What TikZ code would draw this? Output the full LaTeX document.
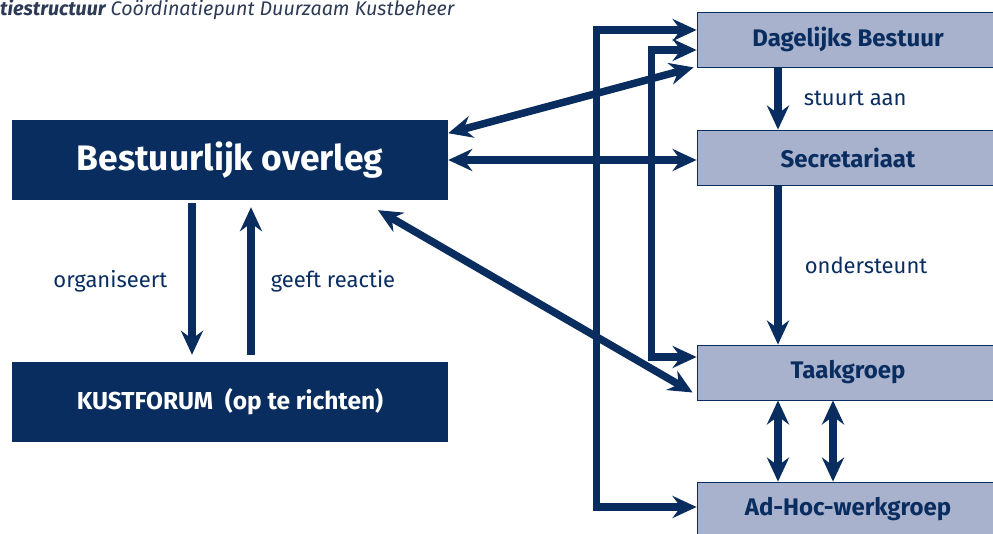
\documentclass[tikz,border=0pt]{standalone}
\usepackage{fontspec}
\setmainfont{Fira Sans}
\usepackage{xcolor}
\usepackage{tikz}
\usetikzlibrary{arrows.meta}
\definecolor{navy}{RGB}{10,45,96}
\definecolor{paleblue}{RGB}{168,178,205}
\definecolor{titlegray}{RGB}{45,58,85}
\tikzset{
    boxnode/.style = {align=center, inner sep=0pt, text centered, rectangle},
    dark_node/.style = {boxnode, fill=navy, text=white, minimum width=436pt, minimum height=80pt},
    light_node/.style = {boxnode, fill=paleblue, draw=navy, line width=0.8pt, text=navy, minimum width=302pt, minimum height=55pt, font=\bfseries\fontsize{24}{26}\selectfont},
    label_text/.style = {inner sep=0pt, text=navy, font=\fontsize{22}{24}\selectfont},
    title_text/.style = {inner sep=0pt, text=titlegray, font=\itshape\fontsize{19.7}{21}\selectfont},
    link/.style = {draw=navy, line width=7.5pt}
}

\begin{document}
\begin{tikzpicture}
    [x=1pt, y=-1pt, >={Stealth[length=24pt, width=22pt, inset=8pt]}]

    \useasboundingbox (0,0) rectangle (993,533);

    % title, cut at the left edge
    \node [title_text, anchor=west] (title) at (0,10)
        {\textbf{tiestructuur} Coördinatiepunt Duurzaam Kustbeheer};

    % left column
    \node [dark_node, font=\bfseries\fontsize{35.4}{37}\selectfont] (bestuur) at (230,160) {Bestuurlijk overleg};
    \node [dark_node, font=\bfseries\fontsize{24.5}{26}\selectfont] (kust) at (230,402) {KUSTFORUM~~(op te richten)};

    % right column
    \node [light_node] (daily) at (848,39.5) {Dagelijks Bestuur};
    \node [light_node] (secr) at (848,157.5) {Secretariaat};
    \node [light_node] (taak) at (848,372.5) {Taakgroep};
    \node [light_node] (adhoc) at (848,509.5) {Ad-Hoc-werkgroep};

    % between the left boxes
    \draw [link, ->, shorten <=3pt, shorten >=7pt] ([xshift=-38pt]bestuur.south) -- ([xshift=-38pt]kust.north)
        node [label_text, midway, left=21pt] (org) {organiseert};
    \draw [link, ->, shorten <=7pt, shorten >=7pt] ([xshift=21pt]kust.north) -- ([xshift=21pt]bestuur.south)
        node [label_text, midway, right=16pt] (reactie) {geeft reactie};

    % from the left to the right column
    \draw [link, <->] (bestuur.7) -- ([xshift=-3pt]daily.south west);
    \draw [link, <->] (bestuur.east) -- (bestuur.east -| secr.west);
    \draw [link, <->] ([xshift=148pt, yshift=-10pt]bestuur.south) -- ([xshift=-4pt, yshift=-20pt]taak.west);

    % lines along the right column
    \draw [link, <->] ([yshift=9.5pt]daily.west) -- ++(-100,0) |- ([yshift=2.5pt]adhoc.west);
    \draw [link, <->] ([yshift=-10.5pt]daily.west) -- ++(-45,0) |- ([yshift=15.5pt]taak.west);

    % inside the right column
    \draw [link, ->] ([xshift=-70pt]daily.south) -- ([xshift=-70pt]secr.north)
        node [label_text, midway, right=22pt] (stuurt) {stuurt aan};
    \draw [link, ->] ([xshift=-70pt]secr.south) -- ([xshift=-70pt]taak.north)
        node [label_text, midway, right=23pt] (onder) {ondersteunt};
    \draw [link, <->] ([xshift=-70pt]taak.south) -- ([xshift=-70pt]adhoc.north);
    \draw [link, <->] ([xshift=-15pt]taak.south) -- ([xshift=-15pt]adhoc.north);
\end{tikzpicture}
\end{document}
